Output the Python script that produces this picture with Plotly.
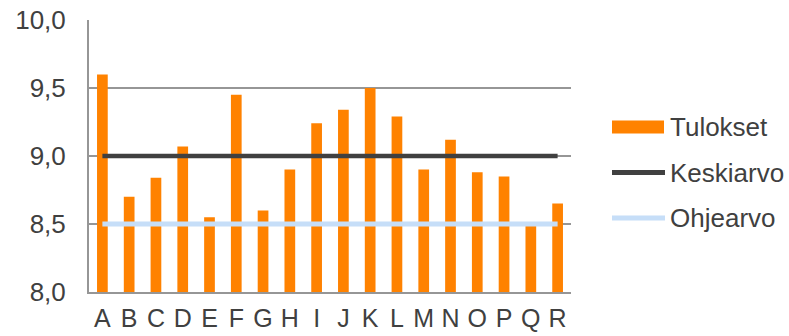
import plotly.graph_objects as go

# Results per unit with average and guideline reference levels
categories = ["A", "B", "C", "D", "E", "F", "G", "H", "I",
              "J", "K", "L", "M", "N", "O", "P", "Q", "R"]
tulokset = [9.60, 8.70, 8.84, 9.07, 8.55, 9.45, 8.60, 8.90, 9.24,
            9.34, 9.50, 9.29, 8.90, 9.12, 8.88, 8.85, 8.49, 8.65]
keskiarvo = [9.0] * len(categories)
ohjearvo = [8.5] * len(categories)
y_ticks = [8.0, 8.5, 9.0, 9.5, 10.0]

ORANGE = "#FF8200"
DARK = "#404040"
LIGHT_BLUE = "#C6DEF8"
GRID = "#969696"
TEXT = "#404040"
FONT = "Liberation Sans, Arial, sans-serif"
FS = 26

fig = go.Figure()
fig.add_trace(go.Bar(x=categories, y=tulokset, name="Tulokset",
                     marker=dict(color=ORANGE, line=dict(width=0))))
fig.add_trace(go.Scatter(x=categories, y=keskiarvo, name="Keskiarvo",
                         mode="lines", line=dict(color=DARK, width=4.5)))
fig.add_trace(go.Scatter(x=categories, y=ohjearvo, name="Ohjearvo",
                         mode="lines", line=dict(color=LIGHT_BLUE, width=5)))

# Legend drawn beside the plot area
legend_items = [
    ("Tulokset", "rect", ORANGE),
    ("Keskiarvo", "line", DARK),
    ("Ohjearvo", "line", LIGHT_BLUE),
]
W, H = 789, 336
L, R, T, B = 89, 218, 20, 44
PW, PH = W - L - R, H - T - B
shapes = []
annotations = []
for i, (label, kind, color) in enumerate(legend_items):
    yc = 127 + i * 45.5
    if kind == "rect":
        shapes.append(dict(type="rect", xref="paper", yref="paper",
                           x0=(612 - L) / PW, x1=(664 - L) / PW,
                           y0=(H - B - (yc + 6.5)) / PH, y1=(H - B - (yc - 6.5)) / PH,
                           fillcolor=color, line=dict(width=0)))
    else:
        yy = (H - B - yc) / PH
        shapes.append(dict(type="line", xref="paper", yref="paper",
                           x0=(612 - L) / PW, x1=(665 - L) / PW,
                           y0=yy, y1=yy, line=dict(color=color, width=5)))
    annotations.append(dict(text=label, xref="paper", yref="paper",
                            x=(668 - L) / PW, y=(H - B - yc) / PH,
                            xanchor="left", yanchor="middle", showarrow=False,
                            font=dict(family=FONT, size=FS, color=TEXT)))

fig.update_layout(
    width=W, height=H,
    margin=dict(l=L, r=R, t=T, b=B),
    paper_bgcolor="white", plot_bgcolor="white",
    separators=", ",
    showlegend=False,
    bargap=0.6,
    font=dict(family=FONT, size=FS, color=TEXT),
    shapes=shapes,
    annotations=annotations,
)
fig.update_xaxes(showline=True, linecolor=GRID, linewidth=2,
                 showgrid=False, ticks="", tickmode="array",
                 tickvals=categories, ticktext=categories,
                 tickfont=dict(size=25, color=TEXT),
                 ticklabelstandoff=3, automargin=False)
fig.update_yaxes(range=[8, 10], tickvals=y_ticks, tickformat=".1f",
                 showline=True, linecolor=GRID, linewidth=2,
                 showgrid=True, gridcolor=GRID, gridwidth=1.5,
                 zeroline=False, ticks="", ticklabelstandoff=16,
                 tickfont=dict(size=FS, color=TEXT), automargin=False)

fig.write_html("out.html")
